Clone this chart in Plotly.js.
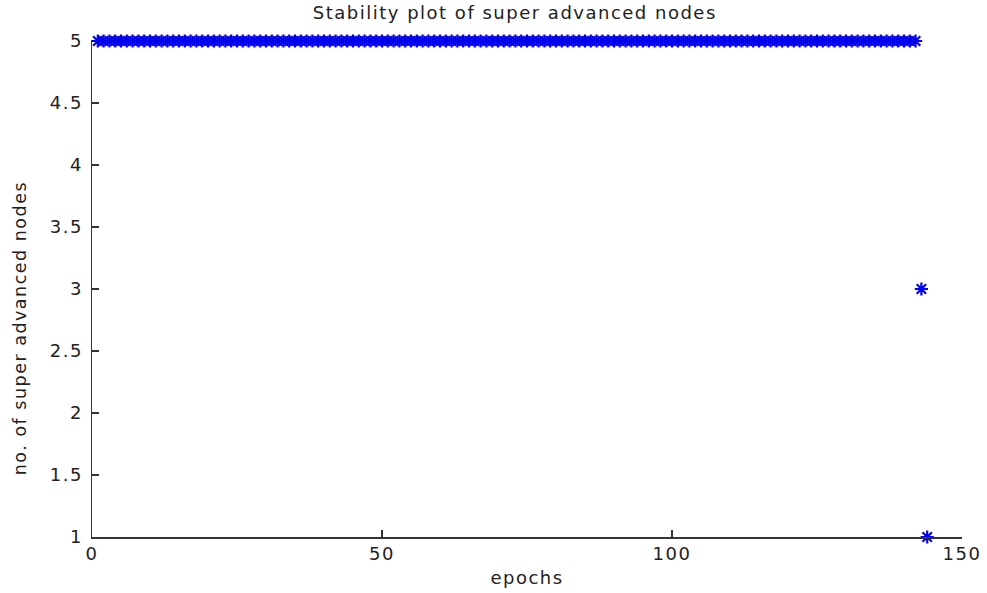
<!DOCTYPE html>
<html>
<head>
<meta charset="utf-8">
<script src="https://cdn.plot.ly/plotly-3.0.1.min.js"></script>
<style>html,body{margin:0;padding:0;background:#fff;}#chart{width:987px;height:593px;}#chart text{letter-spacing:1.5px;}</style>
</head>
<body>
<div id="chart"></div>
<script>
// Data: epochs 1..142 all have 5 super advanced nodes,
// then epoch 143 -> 3, epoch 144 -> 1.
const stableEpochs = [];
for (let e = 1; e <= 142; e++) stableEpochs.push(e);
const stableValues = stableEpochs.map(() => 5);
const tailEpochs = [143, 144];
const tailValues = [3, 1];
const epochs = stableEpochs.concat(tailEpochs);
const nodes = stableValues.concat(tailValues);

const xTicks = [0, 50, 100, 150];
const yTicks = [1, 1.5, 2, 2.5, 3, 3.5, 4, 4.5, 5];

const titleText = 'Stability plot of super advanced nodes';
const xTitle = 'epochs';
const yTitle = 'no. of super advanced nodes';

const font = "DejaVu Sans, Liberation Sans, Arial, sans-serif";

const trace = {
  x: epochs, y: nodes, type: 'scatter', mode: 'markers',
  marker: {symbol: 'asterisk-open', size: 11, color: '#0000ee',
           line: {color: '#0000ee', width: 2.2}},
  hoverinfo: 'skip', cliponaxis: false
};

const layout = {
  width: 987, height: 593,
  margin: {l: 92, r: 25, t: 41, b: 56},
  paper_bgcolor: '#ffffff', plot_bgcolor: '#ffffff',
  showlegend: false,
  font: {family: font, color: '#222'},
  title: {text: titleText, font: {family: font, size: 18, color: '#222'},
          x: 0.486, xanchor: 'center', xref: 'paper', y: 0.978, yanchor: 'middle', yref: 'container'},
  xaxis: {range: [0, 150], tickvals: xTicks, ticktext: xTicks.map(String),
          ticks: 'inside', ticklen: 7, tickcolor: '#333', tickwidth: 1.2,
          showline: true, linecolor: '#333', linewidth: 1.5, mirror: false,
          showgrid: false, zeroline: false,
          tickfont: {family: font, size: 18, color: '#222'},
          title: {text: xTitle, font: {family: font, size: 18, color: '#222'}, standoff: 8}},
  yaxis: {range: [1, 5], tickvals: yTicks, ticktext: yTicks.map(String),
          ticks: 'inside', ticklen: 7, tickcolor: '#333', tickwidth: 1.2,
          showline: true, linecolor: '#333', linewidth: 1.5, mirror: false,
          showgrid: false, zeroline: false, ticklabelstandoff: 4,
          tickfont: {family: font, size: 18, color: '#222'}},
  annotations: [{
    text: yTitle, textangle: -90, showarrow: false,
    xref: 'paper', x: -0.083, xanchor: 'center',
    yref: 'paper', y: 0.421, yanchor: 'middle',
    font: {family: font, size: 17.5, color: '#222'}
  }]
};

Plotly.newPlot('chart', [trace], layout, {displayModeBar: false, staticPlot: true});
</script>
</body>
</html>
